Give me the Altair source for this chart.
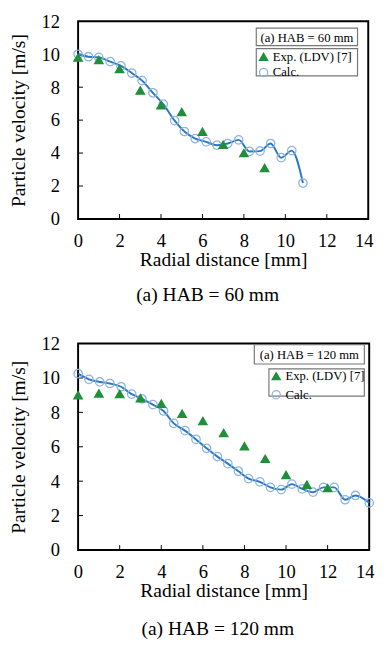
import altair as alt
import pandas as pd

# ---------------- data ----------------
# HAB = 60 mm
x60_calc = [0.0, 0.5, 1.0, 1.55, 2.07, 2.59, 3.09, 3.61, 4.11, 4.66, 5.13, 5.65, 6.18, 6.70, 7.22, 7.75, 8.27, 8.78, 9.29, 9.80, 10.31, 10.85]
v60_calc = [10.0, 9.85, 9.81, 9.55, 9.29, 8.86, 8.40, 7.66, 6.97, 5.97, 5.31, 4.88, 4.68, 4.48, 4.58, 4.80, 4.10, 4.12, 4.58, 3.72, 4.15, 2.18]
x60_exp = [0, 1, 2, 3, 4, 5, 6, 7, 8, 9]
v60_exp = [9.8, 9.65, 9.1, 7.8, 6.9, 6.5, 5.3, 4.5, 4.0, 3.1]

# HAB = 120 mm
x120_calc = [0.0, 0.52, 1.04, 1.53, 2.07, 2.58, 3.07, 3.60, 4.11, 4.60, 5.14, 5.67, 6.18, 6.70, 7.20, 7.71, 8.20, 8.74, 9.25, 9.77, 10.28, 10.78, 11.30, 11.80, 12.32, 12.84, 13.34, 14.0]
v120_calc = [10.25, 9.92, 9.77, 9.68, 9.49, 9.06, 8.79, 8.45, 8.08, 7.36, 6.94, 6.43, 5.91, 5.43, 5.02, 4.58, 4.15, 3.96, 3.64, 3.51, 3.83, 3.55, 3.36, 3.64, 3.64, 2.92, 3.17, 2.74]
x120_exp = [0, 1, 2, 3, 4, 5, 6, 7, 8, 9, 10, 11, 12]
v120_exp = [9.0, 9.1, 9.07, 8.83, 8.5, 7.92, 7.5, 6.8, 6.04, 5.3, 4.36, 3.8, 3.6]

series_names = ["Exp. (LDV) [7]", "Calc."]
x_ticks = [0, 2, 4, 6, 8, 10, 12, 14]
y_ticks = [0, 2, 4, 6, 8, 10, 12]

GREEN = "#1f8f3a"
CIRCLE = "#8db4e2"
LINE = "#2b78c2"
FONT = "Liberation Serif"


def panel(xc, vc, xe, ve, w, h, box_text, caption, cap_dx, cap_offset,
          tbox, lbox, leg_xy, row_pad):
    pts = pd.DataFrame(
        {"x": list(xc) + list(xe),
         "v": list(vc) + list(ve),
         "s": [series_names[1]] * len(xc) + [series_names[0]] * len(xe)}
    )
    calc = pd.DataFrame({"x": xc, "v": vc})

    xs = alt.Scale(domain=[0, 14], nice=False)
    ys = alt.Scale(domain=[0, 12], nice=False)
    xax = alt.Axis(values=x_ticks, title="Radial distance [mm]",
                   labelPadding=13, titlePadding=0,
                   labelOverlap=False, labelFlush=True, labelFlushOffset=5)
    yax = alt.Axis(values=y_ticks, title="Particle velocity [m/s]",
                   labelPadding=19, titlePadding=13,
                   labelOverlap=False, labelFlush=False)
    X = lambda: alt.X("x:Q", scale=xs, axis=xax)
    Y = lambda: alt.Y("v:Q", scale=ys, axis=yax)

    line = alt.Chart(calc).mark_line(color=LINE, strokeWidth=2,
                                     interpolate="monotone").encode(x=X(), y=Y())

    points = alt.Chart(pts).mark_point(size=75, strokeWidth=1.3, opacity=1).encode(
        x=X(),
        y=Y(),
        shape=alt.Shape("s:N", scale=alt.Scale(domain=series_names,
                                               range=["triangle-up", "circle"]),
                        legend=alt.Legend(orient="none", legendX=leg_xy[0],
                                          legendY=leg_xy[1], title=None,
                                          rowPadding=row_pad)),
        fill=alt.Fill("s:N", scale=alt.Scale(domain=series_names,
                                             range=[GREEN, "transparent"])),
        stroke=alt.Stroke("s:N", scale=alt.Scale(domain=series_names,
                                                 range=[GREEN, CIRCLE])),
        order=alt.Order("s:N", sort="ascending"),
    )

    tick_df_x = pd.DataFrame({"x": x_ticks[1:-1]})
    xt = alt.Chart(tick_df_x).mark_rule(color="black", strokeWidth=1).encode(
        x=X(), y=alt.value(h), y2=alt.value(h - 5))
    tick_df_y = pd.DataFrame({"v": y_ticks[1:-1]})
    yt = alt.Chart(tick_df_y).mark_rule(color="black", strokeWidth=1).encode(
        y=Y(), x=alt.value(0), x2=alt.value(5))

    tb = alt.Chart(pd.DataFrame({"t": [box_text]})).mark_rect(
        fill="white", stroke="#777777", strokeWidth=1.2).encode(
        x=alt.value(tbox[0]), x2=alt.value(tbox[1]),
        y=alt.value(tbox[2]), y2=alt.value(tbox[3]))
    tt = alt.Chart(pd.DataFrame({"t": [box_text]})).mark_text(
        font=FONT, fontSize=13, color="black").encode(
        text="t:N", x=alt.value((tbox[0] + tbox[1]) / 2),
        y=alt.value((tbox[2] + tbox[3]) / 2 + 1))
    lb = alt.Chart(pd.DataFrame({"t": [box_text]})).mark_rect(
        fill="white", stroke="#777777", strokeWidth=1.2).encode(
        x=alt.value(lbox[0]), x2=alt.value(lbox[1]),
        y=alt.value(lbox[2]), y2=alt.value(lbox[3]))

    return alt.layer(xt, yt, tb, tt, lb, line, points).properties(
        width=w, height=h,
        title=alt.TitleParams(caption, orient="bottom", anchor="middle",
                              font=FONT, fontSize=20, fontWeight="normal",
                              offset=cap_offset, dx=cap_dx, color="black"),
    )


top = panel(x60_calc, v60_calc, x60_exp, v60_exp, 298, 203,
            "(a) HAB = 60 mm", "(a) HAB = 60 mm", -16, 16,
            (183, 287, 7, 25), (183, 287, 28, 56), (184, 30), 1)
bottom = panel(x120_calc, v120_calc, x120_exp, v120_exp, 299, 212,
               "(a) HAB = 120 mm", "(a) HAB = 120 mm", -6, 19,
               (181, 294, 1, 21), (196, 294, 26, 54), (197, 27), 4)

chart = alt.vconcat(top, bottom, spacing=29).resolve_scale(
    shape="independent", fill="independent", stroke="independent"
).properties(padding={"left": 0, "top": -5, "right": 0, "bottom": 0}).configure_view(
    stroke="black", strokeWidth=2
).configure_axis(
    labelFont=FONT, titleFont=FONT, labelFontSize=19, titleFontSize=20,
    titleFontWeight="normal", labelColor="black", titleColor="black",
    grid=False, domain=False, ticks=False
).configure_legend(
    labelFont=FONT, labelFontSize=13, labelColor="black", symbolSize=70,
    symbolStrokeWidth=1.3, padding=0, labelOffset=3
)

chart.save("out.html", embed_options={"renderer": "svg", "actions": False})
